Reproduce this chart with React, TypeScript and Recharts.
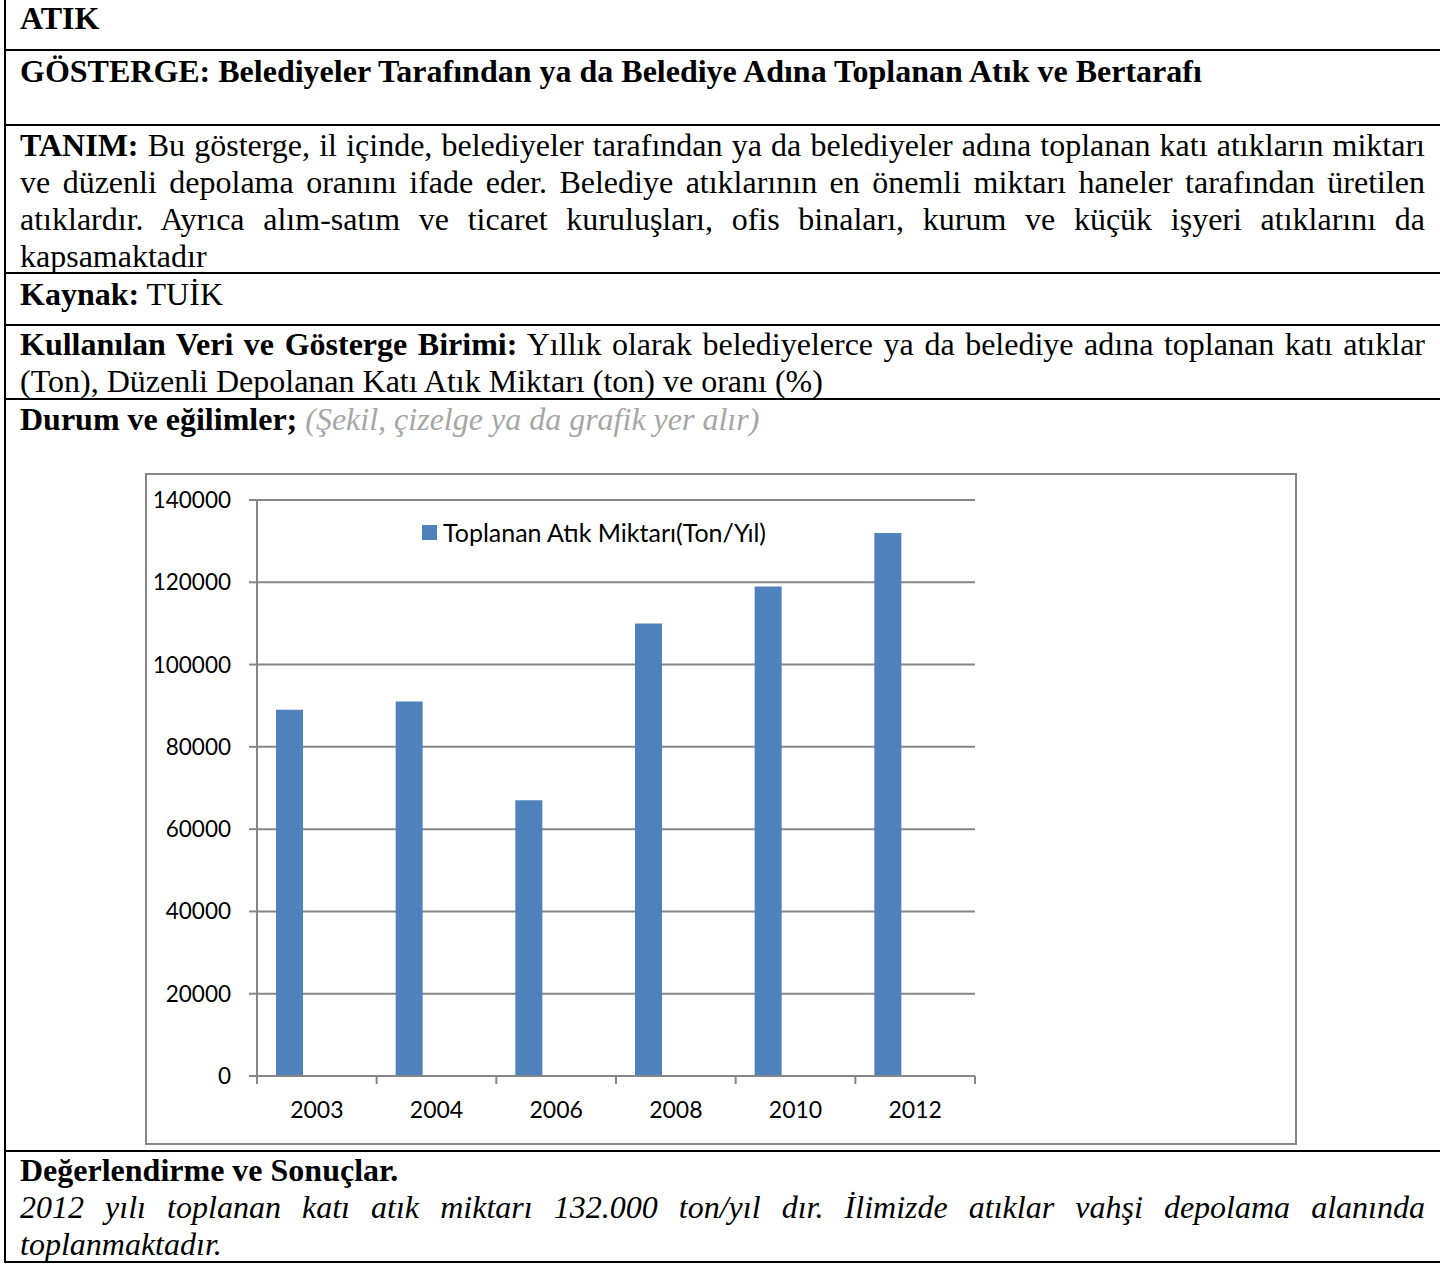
import React from 'react';
import { BarChart, Bar, XAxis, YAxis, CartesianGrid, Legend } from 'recharts';

// grafik verisi
const years = ['2003', '2004', '2006', '2008', '2010', '2012'];
const toplananAtik = [89000, 91000, 67000, 110000, 119000, 132000];
const yTicks = [0, 20000, 40000, 60000, 80000, 100000, 120000, 140000];
const seriesName = 'Toplanan Atık Miktarı(Ton/Yıl)';

const data = years.map((yil, i) => ({ yil, toplanan: toplananAtik[i] }));

const CHART_W = 1148;
const CHART_H = 668;
const MARGIN = { top: 25, right: 320, bottom: 17, left: 0 };
const Y_W = 110;
const PLOT_W = CHART_W - MARGIN.left - MARGIN.right - Y_W;
const TICK_SIZE = 8;
const X_TICK_MARGIN = 17;

const GRAY = '#868686';
const BLUE = '#4F81BD';
const CHART_FONT = 'Lato, "Open Sans", sans-serif';

// Excel tarzı: kategori sınırlarında tick çizgileri
const XTick = (props: any) => {
  const { x, y, payload, index } = props;
  const half = PLOT_W / years.length / 2;
  const axisY = y - TICK_SIZE - X_TICK_MARGIN;
  return (
    <g>
      <line x1={x - half} x2={x - half} y1={axisY} y2={axisY + TICK_SIZE} stroke={GRAY} strokeWidth={2} />
      {index === years.length - 1 && (
        <line x1={x + half} x2={x + half} y1={axisY} y2={axisY + TICK_SIZE} stroke={GRAY} strokeWidth={2} />
      )}
      <text x={x} y={y} dy="0.72em" textAnchor="middle" fill="#000" fontSize={23} fontFamily={CHART_FONT}>
        {payload.value}
      </text>
    </g>
  );
};

const LegendBox = () => (
  <div style={{ display: 'flex', alignItems: 'center', fontFamily: CHART_FONT, fontSize: 25, color: '#000', whiteSpace: 'nowrap' }}>
    <span style={{ display: 'inline-block', width: 15, height: 15, background: BLUE, marginRight: 6 }} />
    <span>{seriesName}</span>
  </div>
);

const Chart = () => (
  <BarChart width={CHART_W} height={CHART_H} data={data} margin={MARGIN} barGap={0}>
    <CartesianGrid horizontal vertical={false} stroke={GRAY} strokeWidth={2} />
    <XAxis
      dataKey="yil"
      height={50}
      axisLine={{ stroke: GRAY, strokeWidth: 2 }}
      tickLine={false}
      tickSize={TICK_SIZE}
      tickMargin={X_TICK_MARGIN}
      tick={<XTick />}
      interval={0}
    />
    <YAxis
      width={Y_W}
      domain={[0, 140000]}
      ticks={yTicks}
      interval={0}
      axisLine={{ stroke: GRAY, strokeWidth: 2 }}
      tickLine={{ stroke: GRAY, strokeWidth: 2 }}
      tickSize={TICK_SIZE}
      tickMargin={18}
      tick={{ fill: '#000', fontSize: 22.5, fontFamily: CHART_FONT }}
    />
    <Legend
      layout="horizontal"
      verticalAlign="middle"
      align="center"
      wrapperStyle={{ position: 'absolute', top: 42, left: 275, width: 'auto' }}
      content={<LegendBox />}
    />
    <Bar dataKey="toplanan" name={seriesName} fill={BLUE} barSize={27} isAnimationActive={false} />
    {/* Excel grafiğinde boş kalan iki seri yeri */}
    <Bar dataKey="duzenliDepolanan" fill={BLUE} barSize={27} isAnimationActive={false} legendType="none" />
    <Bar dataKey="oran" fill={BLUE} barSize={27} isAnimationActive={false} legendType="none" />
  </BarChart>
);

const Line = ({ center, children, justify = false }: { center: number; children: React.ReactNode; justify?: boolean }) => (
  <div
    style={{
      position: 'absolute',
      left: 20,
      width: 1405,
      top: center - 18,
      height: 36,
      lineHeight: '36px',
      whiteSpace: 'nowrap',
      textAlign: justify ? 'justify' : 'left',
      textAlignLast: justify ? 'justify' : 'left',
    }}
  >
    {children}
  </div>
);

const HLine = ({ y }: { y: number }) => (
  <div style={{ position: 'absolute', left: 4, width: 1440, top: y - 1, height: 2, background: '#000' }} />
);

export default function App() {
  return (
    <div
      style={{
        position: 'absolute',
        left: 0,
        top: 0,
        width: 1440,
        height: 1264,
        overflow: 'hidden',
        background: '#fff',
        fontFamily: '"Liberation Serif", "Times New Roman", serif',
        fontSize: 32,
        color: '#000',
      }}
    >
      <div style={{ position: 'absolute', left: 4, top: 0, width: 2, height: 1263, background: '#000' }} />
      {[50, 125, 273, 325, 399, 1151, 1262].map((y) => (
        <HLine key={y} y={y} />
      ))}

      <Line center={18}><b>ATIK</b></Line>
      <Line center={71}><b>GÖSTERGE: Belediyeler Tarafından ya da Belediye Adına Toplanan Atık ve Bertarafı</b></Line>

      <Line center={145} justify><b>TANIM:</b> Bu gösterge, il içinde, belediyeler tarafından ya da belediyeler adına toplanan katı atıkların miktarı</Line>
      <Line center={182} justify>ve düzenli depolama oranını ifade eder. Belediye atıklarının en önemli miktarı haneler tarafından üretilen</Line>
      <Line center={219} justify>atıklardır. Ayrıca alım-satım ve ticaret kuruluşları, ofis binaları, kurum ve küçük işyeri atıklarını da</Line>
      <Line center={256}>kapsamaktadır</Line>

      <Line center={294}><b>Kaynak:</b> TUİK</Line>

      <Line center={344} justify><b>Kullanılan Veri ve Gösterge Birimi:</b> Yıllık olarak belediyelerce ya da belediye adına toplanan katı atıklar</Line>
      <Line center={381}>(Ton), Düzenli Depolanan Katı Atık Miktarı (ton) ve oranı (%)</Line>

      <Line center={419}>
        <b>Durum ve eğilimler;</b> <i style={{ color: '#A6A6A6' }}>(Şekil, çizelge ya da grafik yer alır)</i>
      </Line>

      <div
        style={{
          position: 'absolute',
          left: 145,
          top: 473,
          width: CHART_W,
          height: CHART_H,
          border: `2px solid ${GRAY}`,
          background: '#fff',
        }}
      >
        <Chart />
      </div>

      <Line center={1170}><b>Değerlendirme ve Sonuçlar.</b></Line>
      <Line center={1207} justify><i>2012 yılı toplanan katı atık miktarı 132.000 ton/yıl dır. İlimizde atıklar vahşi depolama alanında</i></Line>
      <Line center={1244}><i>toplanmaktadır.</i></Line>
    </div>
  );
}
